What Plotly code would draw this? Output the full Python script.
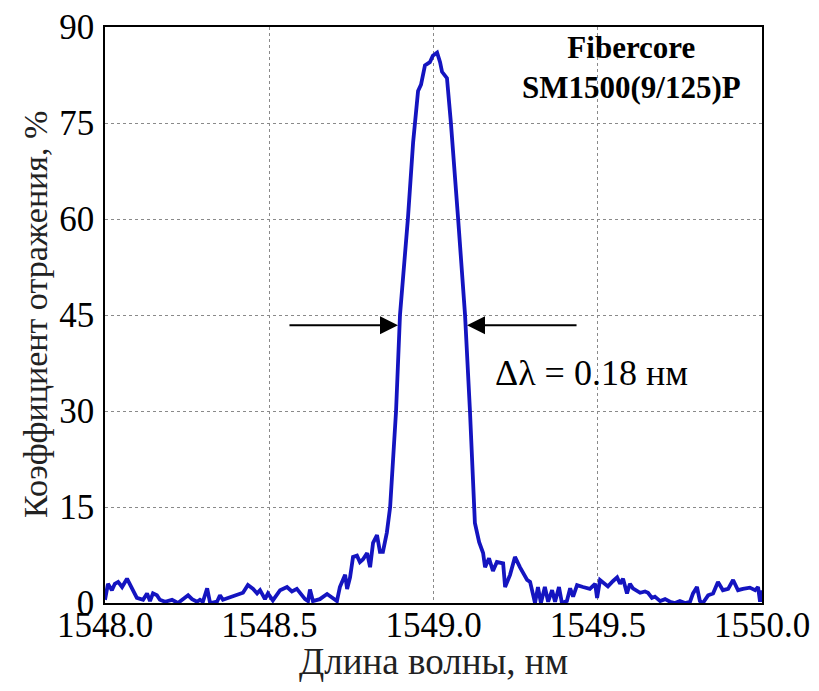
import plotly.graph_objects as go

# wavelength (nm) and reflectance (%)
wavelength = [
    1548.000, 1548.009, 1548.021, 1548.030, 1548.040, 1548.052, 1548.067, 1548.082,
    1548.097, 1548.116, 1548.128, 1548.137, 1548.146, 1548.158, 1548.167, 1548.183,
    1548.204, 1548.222, 1548.237, 1548.253, 1548.265, 1548.280, 1548.289, 1548.298,
    1548.311, 1548.320, 1548.341, 1548.350, 1548.359, 1548.374, 1548.387, 1548.402,
    1548.420, 1548.435, 1548.451, 1548.463, 1548.472, 1548.487, 1548.496, 1548.511,
    1548.533, 1548.554, 1548.569, 1548.584, 1548.609, 1548.618, 1548.624, 1548.633,
    1548.654, 1548.676, 1548.691, 1548.706, 1548.715, 1548.731, 1548.737, 1548.746,
    1548.755, 1548.767, 1548.776, 1548.785, 1548.798, 1548.807, 1548.816, 1548.828,
    1548.837, 1548.846, 1548.858, 1548.868, 1548.886, 1548.898, 1548.922, 1548.938,
    1548.953, 1548.962, 1548.974, 1548.989, 1548.998, 1549.011, 1549.020, 1549.026,
    1549.041, 1549.053, 1549.075, 1549.096, 1549.111, 1549.120, 1549.126, 1549.139,
    1549.151, 1549.157, 1549.169, 1549.181, 1549.193, 1549.212, 1549.218, 1549.233,
    1549.248, 1549.263, 1549.272, 1549.285, 1549.294, 1549.309, 1549.318, 1549.327,
    1549.339, 1549.349, 1549.361, 1549.370, 1549.382, 1549.391, 1549.406, 1549.416,
    1549.425, 1549.437, 1549.455, 1549.476, 1549.492, 1549.498, 1549.507, 1549.522,
    1549.531, 1549.546, 1549.559, 1549.568, 1549.577, 1549.589, 1549.598, 1549.607,
    1549.629, 1549.644, 1549.653, 1549.665, 1549.674, 1549.690, 1549.705, 1549.720,
    1549.735, 1549.750, 1549.766, 1549.781, 1549.790, 1549.802, 1549.811, 1549.820,
    1549.836, 1549.851, 1549.866, 1549.881, 1549.897, 1549.912, 1549.927, 1549.942,
    1549.963, 1549.979, 1549.988, 1549.994, 1550.000,
]
reflectance = [
    0.5, 3.0, 2.0, 3.0, 3.3, 2.5, 3.8, 2.2,
    0.8, 0.5, 1.5, 0.3, 1.5, 1.2, 0.5, 0.2,
    0.5, 0.0, 0.6, 1.2, 0.6, 0.2, 0.5, 0.2,
    2.3, 0.0, 0.2, 1.2, 0.5, 0.8, 1.0, 1.3,
    1.6, 2.8, 2.2, 1.5, 2.0, 0.6, 1.5, 0.4,
    2.0, 2.5, 1.8, 2.2, 0.6, 0.3, 2.1, 0.3,
    0.6, 1.4, 0.9, 0.3, 2.5, 4.4, 2.2, 4.0,
    7.2, 7.4, 6.4, 6.8, 7.8, 5.6, 9.4, 10.6,
    8.0, 8.0, 11.0, 15.0, 30.0, 45.0, 60.0, 72.0,
    80.0, 81.0, 84.0, 84.5, 85.5, 86.0, 84.5, 83.0,
    82.0, 75.0, 60.0, 45.0, 30.0, 17.0, 12.5, 9.5,
    7.8, 5.6, 7.0, 5.0, 6.4, 6.2, 2.5, 4.4,
    7.2, 5.6, 4.7, 3.6, 3.3, 0.0, 2.5, 0.0,
    2.5, 0.2, 2.0, 0.2, 2.5, 0.0, 0.3, 2.3,
    1.0, 2.8, 2.5, 2.2, 3.0, 0.8, 3.6, 3.0,
    2.6, 3.4, 4.0, 3.0, 3.8, 1.5, 3.0, 2.3,
    1.6, 1.8, 1.6, 0.8, 1.0, 0.3, 0.6, 0.2,
    0.0, 0.3, 0.0, 0.2, 1.5, 2.5, 0.3, 0.0,
    1.2, 1.5, 3.3, 2.0, 2.2, 3.6, 2.0, 2.2,
    2.4, 2.0, 2.5, 0.2, 2.0,
]

x_ticks = [1548.0, 1548.5, 1549.0, 1549.5, 1550.0]
y_ticks = [0, 15, 30, 45, 60, 75, 90]

# half-maximum markers
fwhm_level = 43.4
fwhm_left = 1548.892
fwhm_right = 1549.102

font = "Liberation Serif"

fig = go.Figure()
fig.add_trace(go.Scatter(x=wavelength, y=reflectance, mode="lines",
                         line=dict(color="#1414c0", width=3.8), showlegend=False))

fig.add_annotation(x=fwhm_left, y=fwhm_level, ax=1548.557, ay=fwhm_level,
                   xref="x", yref="y", axref="x", ayref="y", text="",
                   showarrow=True, arrowhead=2, arrowsize=1.8, arrowwidth=2, arrowcolor="black")
fig.add_annotation(x=fwhm_right, y=fwhm_level, ax=1549.440, ay=fwhm_level,
                   xref="x", yref="y", axref="x", ayref="y", text="",
                   showarrow=True, arrowhead=2, arrowsize=1.8, arrowwidth=2, arrowcolor="black")
fig.add_annotation(x=1549.48, y=35.9, text="Δλ = 0.18 нм", showarrow=False,
                   font=dict(family=font, size=36, color="black"))
fig.add_annotation(x=1549.604, y=83.6, text="<b>Fibercore<br>SM1500(9/125)P</b>",
                   showarrow=False, font=dict(family=font, size=31, color="black"))

# axis titles
fig.add_annotation(x=0.5, y=-0.102, xref="paper", yref="paper", text="Длина волны, нм",
                   xanchor="center", yanchor="middle",
                   showarrow=False, font=dict(family=font, size=37, color="#222"))
fig.add_annotation(x=-0.1065, y=0.5, xref="paper", yref="paper", text="Коэффициент отражения, %",
                   xanchor="center", yanchor="middle",
                   showarrow=False, textangle=-90, font=dict(family=font, size=34, color="#222"))

axis_common = dict(showline=True, linecolor="black", linewidth=1.5, mirror=True,
                   showgrid=True, gridcolor="#8a8a8a", griddash="dot", gridwidth=1,
                   zeroline=False, ticks="", automargin=False,
                   tickfont=dict(family=font, size=35, color="black"))

fig.update_xaxes(range=[1548.0, 1550.0], tickvals=x_ticks, tickformat=".1f",
                 ticklabelstandoff=-10, **axis_common)
fig.update_yaxes(range=[0, 90], tickvals=y_ticks, ticklabelstandoff=2, **axis_common)

fig.update_layout(width=819, height=691, margin=dict(l=105, r=57, t=27, b=88),
                  plot_bgcolor="white", paper_bgcolor="white")

fig.write_html("out.html", config={"displayModeBar": False},
               post_script="document.body.style.margin='0';")
